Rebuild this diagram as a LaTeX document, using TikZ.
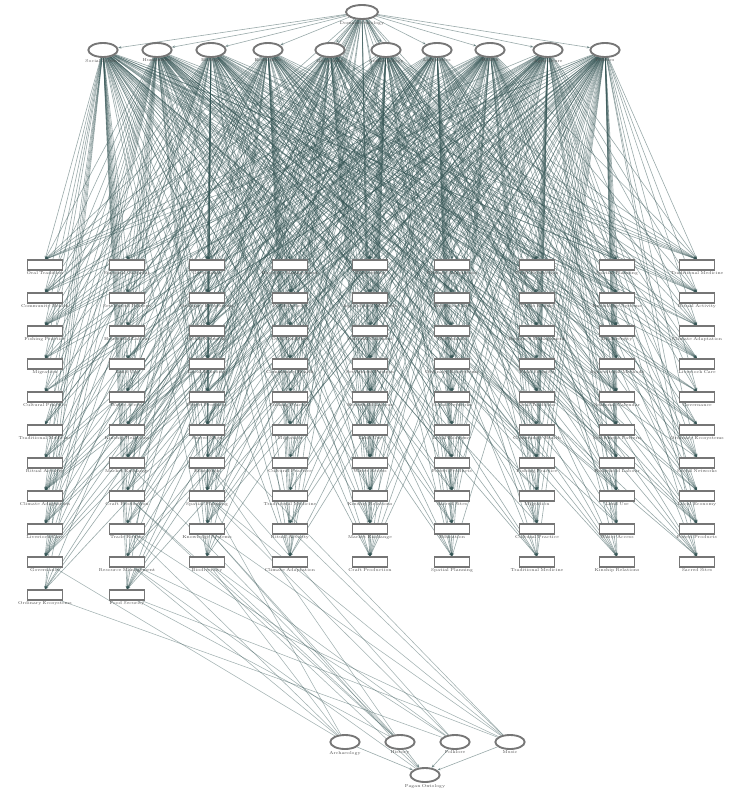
\documentclass[tikz,border=0pt]{standalone}
\usetikzlibrary{arrows.meta,shapes.geometric}
\pgfdeclarelayer{bg}
\pgfsetlayers{bg,main}
\definecolor{edgec}{HTML}{345454}
\definecolor{nodec}{HTML}{767676}
\tikzset{
  ell/.style={ellipse, draw=nodec, line width=1.4pt, minimum width=22pt, minimum height=10.5pt, inner sep=0pt, fill=white},
  boxn/.style={rectangle, draw=nodec, line width=1pt, minimum width=26pt, minimum height=7.5pt, inner sep=0pt, fill=white},
  lbl/.style={font=\fontsize{3.2}{3.6}\selectfont, text=black!70, align=center, text width=46pt, inner sep=0.6pt},
  link/.style={draw=edgec, line width=0.45pt, opacity=0.5, -{Stealth[length=2.6pt,width=2pt]}},
  plainlink/.style={draw=edgec, line width=0.42pt, opacity=0.45},
}
\def\terms{{"Ordinary Ecosystems","Cultural Practice","Resource Management","Land Use","Knowledge Systems","Social Networks","Traditional Medicine","Food Security","Water Access","Biodiversity","Local Economy","Ritual Activity","Oral Tradition","Kinship Relations","Agricultural Methods","Forest Products","Climate Adaptation","Community Health","Market Exchange","Seasonal Calendar","Sacred Sites","Livestock Care","Fishing Practice","Craft Production","Settlement Pattern","Education","Governance","Migration","Trade Routes","Household Labour","Spatial Planning"}}
\begin{document}
\begin{tikzpicture}[x=0.75pt,y=-0.75pt]
\useasboundingbox (0,0) rectangle (729,792);

% top node and its row of ellipses
\node[ell, minimum width=24pt, label={[lbl]below:Domain Ontology}] (top) at (362,12) {};
\foreach \i/\x/\t in {1/103/Social Science,2/157/Humanities,3/211/Ecology,4/268/Economics,5/330/Geography,6/386/Anthropology,7/437/Linguistics,8/490/Health,9/548/Agriculture,10/605/Politics}{
  \node[ell, label={[lbl]below:\t}] (e\i) at (\x,50) {};
}

% grid of concept boxes
\foreach \c/\x/\n in {1/45/11,2/127/11,3/207/10,4/290/10,5/370/10,6/452/10,7/537/10,8/617/10,9/697/10}{
  \foreach \r in {1,...,\n}{
    \pgfmathsetmacro\yy{265+33*(\r-1)}
    \pgfmathtruncatemacro\k{mod(\c*7+\r*5,31)}
    \pgfmathsetmacro\t{\terms[\k]}
    \node[boxn, label={[lbl]below:\t}] (b-\c-\r) at (\x,\yy) {};
  }
}

% bottom group
\foreach \i/\x/\t in {1/345/Archaeology,2/400/History,3/455/Folklore,4/510/Music}{
  \node[ell, label={[lbl]below:\t}] (f\i) at (\x,742) {};
}
\node[ell, label={[lbl]below:Pagan Ontology}] (root) at (425,775) {};

\begin{pgfonlayer}{bg}
  \pgfmathsetseed{4711}
  % top node to the row of ellipses
  \foreach \i in {1,...,10}{ \draw[link] (top) -- (e\i); }
  % top node straight to some boxes
  \foreach \c/\n in {1/11,2/11,3/10,4/10,5/10,6/10,7/10,8/10,9/10}{
    \foreach \r in {1,...,\n}{
      \pgfmathtruncatemacro\hit{rnd<0.4 ? 1 : 0}
      \ifnum\hit=1 \draw[link] (top) -- (b-\c-\r.north); \fi
    }
  }
  % each ellipse feeds its own column fully and other boxes at random
  \foreach \e/\hc in {1/2,2/1,3/3,4/4,5/5,6/5,7/6,8/9,9/7,10/8}{
    \foreach \c/\n in {1/11,2/11,3/10,4/10,5/10,6/10,7/10,8/10,9/10}{
      \foreach \r in {1,...,\n}{
        \pgfmathtruncatemacro\hit{(\c==\hc) ? 1 : (rnd<0.7 ? 1 : 0)}
        \ifnum\hit=1 \draw[link] (e\e) -- (b-\c-\r.north); \fi
      }
    }
  }
  % bottom group links
  \foreach \f/\b in {1/b-2-9,1/b-2-10,1/b-3-8,1/b-1-10,1/b-3-10,
                     2/b-2-8,2/b-2-11,2/b-3-9,2/b-3-10,2/b-2-7,2/b-3-7,
                     3/b-3-7,3/b-2-9,3/b-3-10,3/b-1-11,3/b-3-8,
                     4/b-2-10,4/b-3-9,4/b-3-8,4/b-2-11,4/b-4-9,4/b-3-6}{
    \draw[plainlink] (f\f) -- (\b);
  }
  \foreach \b in {b-2-8,b-3-9,b-2-10}{ \draw[plainlink] (root) -- (\b); }
  \foreach \i in {1,...,4}{ \draw[link] (f\i) -- (root); }
\end{pgfonlayer}
\end{tikzpicture}
\end{document}
